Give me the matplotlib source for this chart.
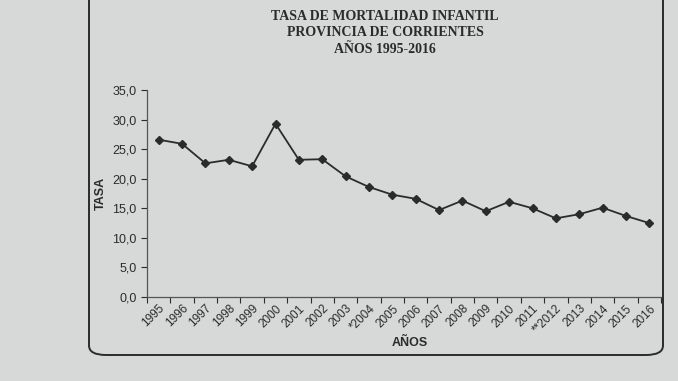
import matplotlib.pyplot as plt
from matplotlib.patches import FancyBboxPatch

years = ['1995', '1996', '1997', '1998', '1999', '2000', '2001', '2002', '2003', '*2004',
         '2005', '2006', '2007', '2008', '2009', '2010', '2011', '**2012', '2013', '2014',
         '2015', '2016']
tasa = [26.6, 25.9, 22.6, 23.2, 22.1, 29.3, 23.2, 23.3, 20.4, 18.6,
        17.3, 16.6, 14.7, 16.3, 14.5, 16.1, 15.0, 13.3, 14.0, 15.1,
        13.7, 12.5]

paper = '#d7d9d9'
ink = '#2b2b2b'

fig = plt.figure(figsize=(6.78, 3.81), dpi=100)
fig.patch.set_facecolor(paper)

# rounded frame of the printed chart
frame = FancyBboxPatch((89 / 678, 26 / 381), 574 / 678, 370 / 381,
                       boxstyle='round,pad=0,rounding_size=0.025',
                       transform=fig.transFigure, facecolor='none',
                       edgecolor=ink, linewidth=1.4)
fig.patches.append(frame)

ax = fig.add_axes([147 / 678, 84 / 381, 514 / 678, 207 / 381])
ax.set_facecolor(paper)

x = list(range(len(years)))
ax.plot(x, tasa, color=ink, linewidth=1.3, marker='D', markersize=4)

ax.set_xlim(-0.5, len(years) - 0.5)
ax.set_ylim(0, 35)
ax.set_yticks([0, 5, 10, 15, 20, 25, 30, 35])
ax.set_yticklabels(['{:.1f}'.format(v).replace('.', ',') for v in ax.get_yticks()],
                   fontsize=9, family='Liberation Sans', color=ink)

# ticks sit between the categories, labels under the points
ax.set_xticks([i - 0.5 for i in range(len(years) + 1)])
ax.set_xticklabels([])
ax.set_xticks(x, minor=True)
ax.set_xticklabels(years, minor=True, rotation=45, ha='right', rotation_mode='anchor',
                   fontsize=8.5, family='Liberation Sans', color=ink)
ax.tick_params(axis='x', which='minor', length=0, pad=4)
ax.tick_params(axis='x', which='major', length=4, color=ink)
ax.tick_params(axis='y', length=4, color=ink)

for side in ['top', 'right']:
    ax.spines[side].set_visible(False)
for side in ['left', 'bottom']:
    ax.spines[side].set_color('#555555')
    ax.spines[side].set_linewidth(0.9)

ax.set_ylabel('TASA', fontsize=9, fontweight='bold', family='Liberation Sans', color=ink, labelpad=4)
fig.text(410 / 678, 1 - 343 / 381, 'AÑOS', fontsize=9, fontweight='bold',
         family='Liberation Sans', color=ink, ha='center', va='center')

fig.text(385 / 678, 1 - 33 / 381,
         'TASA DE MORTALIDAD INFANTIL\nPROVINCIA DE CORRIENTES\nAÑOS 1995-2016',
         fontsize=10, fontweight='bold', family='Liberation Serif', color=ink,
         ha='center', va='center', linespacing=1.35)

fig.savefig('out.png', dpi=100, facecolor=paper)
